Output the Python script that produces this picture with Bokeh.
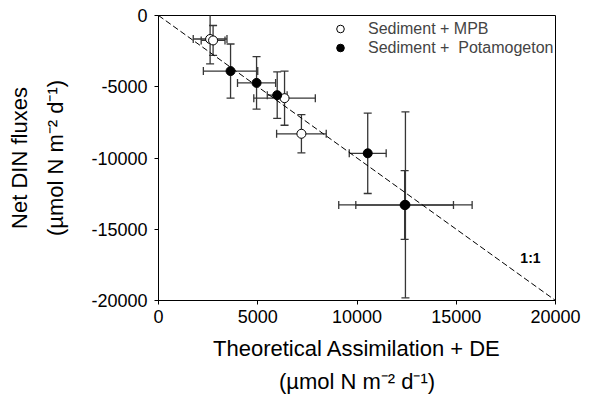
import math
from bokeh.plotting import figure
from bokeh.models import (ColumnDataSource, Whisker, TeeHead, Range1d, Label,
                          Legend, LegendItem, FixedTicker, LinearAxis)
from bokeh.embed import file_html
from bokeh.resources import INLINE

# ---- data ----
mpb_x = [2600, 2750, 6350, 7200]
mpb_y = [-1650, -1750, -5800, -8300]
mpb_xerr = [850, 600, 1550, 1250]
mpb_yerr = [1750, 1050, 1900, 1340]

pot_x = [3630, 4940, 5980, 10540, 12440, 12400]
pot_y = [-3900, -4730, -5590, -9670, -13290, -13300]
pot_xerr = [1370, 960, 500, 930, 3360, 2460]
pot_yerr = [1900, 1840, 1630, 2820, 6520, 2410]

line_x = [0, 20000]
line_y = [0, -20000]

x_ticks = [0, 5000, 10000, 15000, 20000]
x_tick_labels = ["0", "5000", "10000", "15000", "20000"]
y_ticks = [0, -5000, -10000, -15000, -20000]
y_tick_labels = ["0", "-5000", "-10000", "-15000", "-20000"]

x_title = ["Theoretical Assimilation + DE", "(µmol N m⁻² d⁻¹)"]
y_title = ["Net DIN fluxes", "(µmol N m⁻² d⁻¹)"]

FONT = "Liberation Sans"
ERR = "#363636"
TSIZE = "22px"

def src(x, y, xe, ye):
    return ColumnDataSource(dict(
        x=x, y=y,
        xl=[a - e for a, e in zip(x, xe)], xu=[a + e for a, e in zip(x, xe)],
        yl=[a - e for a, e in zip(y, ye)], yu=[a + e for a, e in zip(y, ye)],
    ))

s_mpb = src(mpb_x, mpb_y, mpb_xerr, mpb_yerr)
s_pot = src(pot_x, pot_y, pot_xerr, pot_yerr)

p = figure(width=593, height=396, output_backend="svg", toolbar_location=None,
           x_range=Range1d(0, 20000), y_range=Range1d(-20000, 0),
           min_border_left=158, min_border_right=38, min_border_top=15,
           min_border_bottom=95)
p.background_fill_color = "white"
p.border_fill_color = "white"
p.outline_line_color = "black"
p.outline_line_width = 1
p.xgrid.visible = False
p.ygrid.visible = False

def style_title(ax):
    ax.axis_label_text_font = FONT
    ax.axis_label_text_font_size = TSIZE
    ax.axis_label_text_font_style = "normal"
    ax.axis_label_text_color = "black"

for ax, ticks, labels in ((p.xaxis[0], x_ticks, x_tick_labels),
                          (p.yaxis[0], y_ticks, y_tick_labels)):
    ax.ticker = FixedTicker(ticks=ticks)
    ax.major_label_overrides = {t: l for t, l in zip(ticks, labels)}
    ax.major_tick_in = 0
    ax.major_tick_out = 4
    ax.minor_tick_line_color = None
    ax.axis_line_color = "black"
    ax.major_tick_line_color = "black"
    ax.major_label_text_font = FONT
    ax.major_label_text_font_size = "18px"
    ax.major_label_text_color = "black"
    style_title(ax)
p.xaxis.major_label_standoff = 5
p.yaxis.major_label_standoff = 7
p.xaxis.axis_label = x_title[0]
p.yaxis.axis_label = y_title[1]
p.xaxis.axis_label_standoff = 10
p.yaxis.axis_label_standoff = 20

def title_axis(text, standoff):
    a = LinearAxis(ticker=FixedTicker(ticks=[]), axis_line_color=None,
                   major_tick_line_color=None, minor_tick_line_color=None,
                   major_label_text_font_size="0px", major_tick_out=0, major_tick_in=0,
                   major_label_standoff=0, axis_label=text, axis_label_standoff=standoff)
    style_title(a)
    return a

p.add_layout(title_axis(x_title[1], 5), "below")
p.add_layout(title_axis(y_title[0], 9), "left")

# 1:1 line
p.line(line_x, line_y, line_color="black", line_width=1, line_dash="6 3")

# error bars
for s in (s_mpb, s_pot):
    p.add_layout(Whisker(source=s, base="y", lower="xl", upper="xu", dimension="width",
                         line_color=ERR, line_width=1.3,
                         upper_head=TeeHead(size=8, line_color=ERR, line_width=1.3),
                         lower_head=TeeHead(size=8, line_color=ERR, line_width=1.3)))
    p.add_layout(Whisker(source=s, base="x", lower="yl", upper="yu", dimension="height",
                         line_color=ERR, line_width=1.3,
                         upper_head=TeeHead(size=8, line_color=ERR, line_width=1.3),
                         lower_head=TeeHead(size=8, line_color=ERR, line_width=1.3)))

r_mpb = p.scatter("x", "y", source=s_mpb, size=9, fill_color="white", line_color="black",
                  line_width=1)
r_pot = p.scatter("x", "y", source=s_pot, size=9, fill_color="black", line_color="black",
                  line_width=1)

legend = Legend(items=[LegendItem(label="Sediment + MPB", renderers=[r_mpb]),
                       LegendItem(label="Sediment +  Potamogeton", renderers=[r_pot])],
                location=(172, 243), padding=0, spacing=0, margin=0,
                glyph_width=20, glyph_height=19, label_standoff=18,
                label_text_font=FONT, label_text_font_size="16px",
                border_line_alpha=0, background_fill_alpha=0)
p.add_layout(legend)

p.add_layout(Label(x=18740, y=-17000, text="1:1", text_font=FONT, text_font_size="14px",
                   text_font_style="bold", text_color="black",
                   text_align="center", text_baseline="middle"))

open("out.html", "w").write(file_html(p, INLINE))
